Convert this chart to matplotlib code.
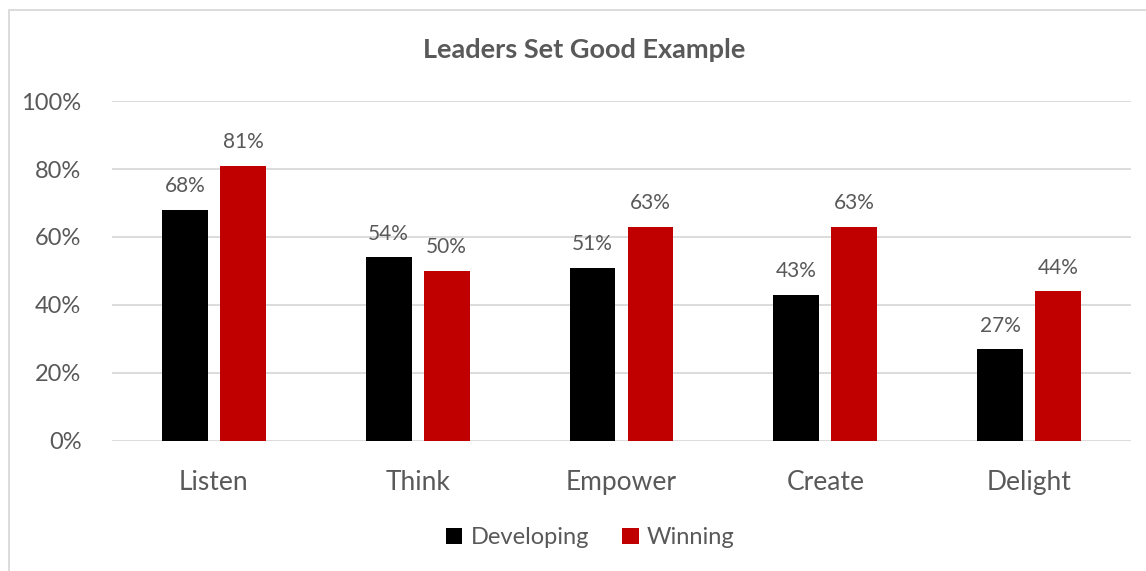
import numpy as np
import matplotlib.pyplot as plt
from matplotlib.patches import Rectangle
from matplotlib.ticker import PercentFormatter

plt.rcParams['font.family'] = ['Lato', 'DejaVu Sans']

categories = ['Listen', 'Think', 'Empower', 'Create', 'Delight']
developing = [68, 54, 51, 43, 27]
winning = [81, 50, 63, 63, 44]
series_names = ['Developing', 'Winning']
colors = ['#000000', '#C00000']
text_color = '#595959'

fig = plt.figure(figsize=(11.46, 5.71), dpi=100)
ax = fig.add_axes([0.0977, 0.2277, 0.8892, 0.5954])

x = np.arange(len(categories))
w = 0.225
gap = 0.06
offsets = [-(w + gap) / 2, (w + gap) / 2]

for vals, off, c, name in zip([developing, winning], offsets, colors, series_names):
    bars = ax.bar(x + off, vals, width=w, color=c, label=name, zorder=3)
    for b, v in zip(bars, vals):
        ax.text(b.get_x() + b.get_width() / 2, v + 4, f'{v}%',
                ha='center', va='bottom', fontsize=15, color=text_color)

ax.set_xlim(-0.5, len(categories) - 0.5)
ax.set_ylim(0, 100)
ax.set_yticks(np.arange(0, 101, 20))
ax.yaxis.set_major_formatter(PercentFormatter(decimals=0))
ax.set_xticks(x)
ax.set_xticklabels(categories)
ax.tick_params(axis='y', length=0, labelsize=17, labelcolor=text_color, pad=22)
ax.tick_params(axis='x', length=0, labelsize=19, labelcolor=text_color, pad=21)
ax.grid(axis='y', color='#D9D9D9', linewidth=1.3, zorder=0)
for s in ax.spines.values():
    s.set_visible(False)

fig.text(0.51, 0.912, 'Leaders Set Good Example', ha='center', va='center',
         fontsize=19.5, fontweight='bold', color=text_color)

fig.legend(loc='center', bbox_to_anchor=(0.515, 0.058), ncol=2, frameon=False,
           fontsize=17, labelcolor=text_color, handlelength=0.7,
           handleheight=0.7, handletextpad=0.35, columnspacing=1.4)

# chart area border
fig.patches.append(Rectangle((9 / 1146, -0.01), 1.0, 1 - 10 / 571 + 0.01,
                             transform=fig.transFigure, fill=False,
                             edgecolor='#D9D9D9', linewidth=1.3))

fig.savefig('out.png', dpi=100)
